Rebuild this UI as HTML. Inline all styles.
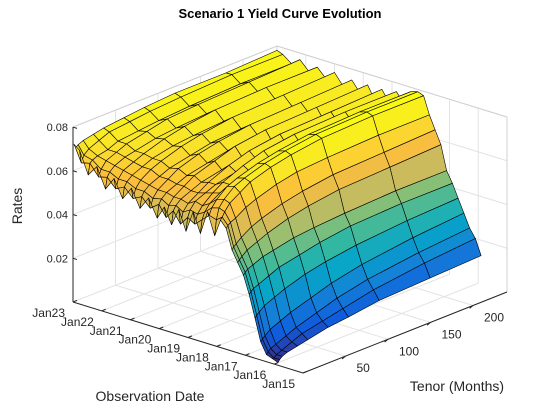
<!DOCTYPE html>
<html><head><meta charset="utf-8"><style>
html,body{margin:0;padding:0;background:#fff}
svg{display:block;font-family:"Liberation Sans",Arial,sans-serif}
</style></head><body>
<svg id="chart" width="560" height="420" viewBox="0 0 560 420" xmlns="http://www.w3.org/2000/svg">
<rect width="560" height="420" fill="#fff"/>
<text x="280" y="18" text-anchor="middle" font-size="13" font-weight="bold" fill="#000">Scenario 1 Yield Curve Evolution</text>
<g id="grid"></g>
<g id="surf"></g>
<g id="axes"></g>
<text x="22" y="206" transform="rotate(-90 22 206)" text-anchor="middle" font-size="14" fill="#262626">Rates</text>
<text x="150" y="401" text-anchor="middle" font-size="14" fill="#262626">Observation Date</text>
<text x="457" y="391" text-anchor="middle" font-size="14" fill="#262626">Tenor (Months)</text>
</svg>
<script>
const tenors = [1,3,6,12,24,36,60,84,120,180,240];
const dates = [0.9,1.1,1.3,1.5,1.7,1.9,2.1,2.3,2.5,2.7,2.9,3.1,3.35,3.6,3.85,4.1,4.35,4.6,4.85,5.1,5.4,5.7,6.0,6.3,6.6,6.9,7.2,7.5,7.8,8.0];
const rates = [
[0.001,0.002,0.003,0.004,0.005,0.006,0.008,0.009,0.011,0.012,0.013],
[0.002,0.002,0.003,0.004,0.006,0.008,0.010,0.012,0.015,0.018,0.020],
[0.003,0.004,0.005,0.006,0.008,0.010,0.013,0.016,0.019,0.022,0.024],
[0.008,0.009,0.010,0.012,0.014,0.016,0.019,0.022,0.025,0.028,0.030],
[0.018,0.019,0.020,0.022,0.024,0.026,0.029,0.031,0.033,0.035,0.036],
[0.028,0.029,0.030,0.031,0.033,0.035,0.037,0.039,0.041,0.042,0.042],
[0.036,0.037,0.038,0.039,0.041,0.042,0.044,0.045,0.046,0.047,0.047],
[0.041,0.042,0.043,0.045,0.047,0.049,0.052,0.054,0.056,0.057,0.058],
[0.046,0.047,0.048,0.050,0.053,0.055,0.058,0.060,0.062,0.063,0.064],
[0.055,0.056,0.057,0.058,0.061,0.063,0.066,0.068,0.069,0.070,0.070],
[0.058,0.059,0.061,0.064,0.067,0.070,0.073,0.075,0.077,0.078,0.078],
[0.050,0.057,0.062,0.065,0.069,0.071,0.074,0.076,0.078,0.079,0.079],
[0.060,0.058,0.061,0.064,0.068,0.070,0.073,0.075,0.077,0.078,0.078],
[0.049,0.055,0.058,0.061,0.064,0.066,0.068,0.070,0.071,0.072,0.072],
[0.058,0.052,0.056,0.059,0.063,0.066,0.070,0.073,0.075,0.076,0.076],
[0.048,0.054,0.057,0.060,0.062,0.064,0.066,0.068,0.069,0.070,0.070],
[0.057,0.050,0.055,0.058,0.061,0.064,0.068,0.071,0.073,0.074,0.075],
[0.049,0.055,0.057,0.059,0.061,0.063,0.065,0.067,0.068,0.069,0.069],
[0.056,0.051,0.056,0.059,0.062,0.065,0.068,0.071,0.073,0.074,0.075],
[0.050,0.056,0.058,0.060,0.062,0.064,0.066,0.068,0.069,0.070,0.070],
[0.058,0.053,0.057,0.060,0.063,0.066,0.069,0.071,0.073,0.074,0.075],
[0.052,0.057,0.059,0.061,0.063,0.065,0.067,0.069,0.070,0.071,0.071],
[0.060,0.055,0.059,0.062,0.065,0.067,0.070,0.072,0.074,0.075,0.076],
[0.054,0.059,0.061,0.063,0.065,0.067,0.069,0.070,0.071,0.072,0.072],
[0.062,0.057,0.061,0.064,0.066,0.068,0.071,0.073,0.075,0.076,0.076],
[0.056,0.061,0.063,0.065,0.067,0.068,0.070,0.071,0.072,0.073,0.073],
[0.065,0.060,0.063,0.066,0.068,0.070,0.072,0.074,0.075,0.076,0.077],
[0.060,0.065,0.066,0.067,0.068,0.070,0.071,0.072,0.073,0.074,0.074],
[0.070,0.064,0.067,0.069,0.071,0.073,0.074,0.075,0.076,0.077,0.077],
[0.072,0.070,0.071,0.072,0.073,0.074,0.075,0.076,0.077,0.077,0.078]
];
const tenorTicks = [50,100,150,200];
const dateTickLabels = ["Jan15","Jan16","Jan17","Jan18","Jan19","Jan20","Jan21","Jan22","Jan23"];
const zTicks = [0.02,0.04,0.06,0.08];
const zTickLabels = ["0.02","0.04","0.06","0.08"];

const T0=0,T1=240,D0=0,D1=8,Z1=0.08;
function P(t,d,z){
  const tn=(t-T0)/(T1-T0), dn=(d-D0)/(D1-D0);
  return [303+tn*204-dn*230, 373-tn*81-dn*71-z*2187];
}
const NS="http://www.w3.org/2000/svg";
function mk(tag,attrs,parent){const e=document.createElementNS(NS,tag);for(const k in attrs)e.setAttribute(k,attrs[k]);parent.appendChild(e);return e;}
const grid=document.getElementById('grid'), surf=document.getElementById('surf'), axes=document.getElementById('axes');
function line(p,q,col,w,parent,name){const l=mk('line',{x1:p[0],y1:p[1],x2:q[0],y2:q[1],stroke:col,'stroke-width':w},parent);


return l;}
const gc="#e3e3e3";
for(const t of tenorTicks){line(P(t,D0,0),P(t,D1,0),gc,1,grid,'floor-gridline');line(P(t,D1,0),P(t,D1,Z1),gc,1,grid,'wall-gridline');}
for(let i=0;i<=8;i++){line(P(T0,i,0),P(T1,i,0),gc,1,grid,'floor-gridline');line(P(T1,i,0),P(T1,i,Z1),gc,1,grid,'wall-gridline');}
for(const z of zTicks){line(P(T0,D1,z),P(T1,D1,z),gc,1,grid,'wall-gridline');line(P(T1,D1,z),P(T1,D0,z),gc,1,grid,'wall-gridline');}
line(P(T1,D1,0),P(T1,D1,Z1),"#d0d0d0",1,grid,'box-edge');
line(P(T0,D1,Z1),P(T1,D1,Z1),"#d0d0d0",1,grid,'box-edge');
line(P(T1,D1,Z1),P(T1,D0,Z1),"#d0d0d0",1,grid,'box-edge');
line(P(T1,D0,0),P(T1,D0,Z1),"#d0d0d0",1,grid,'box-edge');

const stops=[[53,42,135],[15,92,221],[20,129,214],[6,164,202],[46,183,164],[135,191,119],[209,187,89],[253,190,60],[249,230,40],[249,251,14]];
function parula(v){v=Math.max(0,Math.min(1,v));const s=v*(stops.length-1),i=Math.min(stops.length-2,Math.floor(s)),f=s-i;
const c=stops[i].map((a,k)=>Math.round(a+(stops[i+1][k]-a)*f));return `rgb(${c[0]},${c[1]},${c[2]})`;}
let cmin=Infinity,cmax=-Infinity;rates.forEach(r=>r.forEach(v=>{cmin=Math.min(cmin,v);cmax=Math.max(cmax,v);}));
const quads=[];
for(let i=0;i<dates.length-1;i++)for(let j=0;j<tenors.length-1;j++){
  const c=[[j,i],[j+1,i],[j+1,i+1],[j,i+1]];
  const pts=c.map(([a,b])=>P(tenors[a],dates[b],rates[b][a]));
  const zavg=c.reduce((s,[a,b])=>s+rates[b][a],0)/4;
  const depth=((tenors[j]+tenors[j+1])/2/240)+((dates[i]+dates[i+1])/2/8)-zavg*2;
  quads.push({pts,zavg,depth});
}
quads.sort((a,b)=>b.depth-a.depth);
for(const q of quads){
  const p=mk('polygon',{points:q.pts.map(p=>p[0].toFixed(1)+','+p[1].toFixed(1)).join(' '),fill:parula((q.zavg-cmin)/(cmax-cmin)),stroke:'#000','stroke-width':0.6,'stroke-linejoin':'round'},surf);
  
  
}
const ac="#262626";
line(P(T0,D0,0),P(T0,D1,0),ac,1,axes,'date-axis-line');
line(P(T0,D0,0),P(T1,D0,0),ac,1,axes,'tenor-axis-line');
line(P(T0,D1,0),P(T0,D1,Z1),ac,1,axes,'z-axis-line');
for(const z of zTicks){const p=P(T0,D1,z);line(p,[p[0]+4,p[1]+1.3],ac,1,axes,'z-tick');}
zTicks.forEach((z,k)=>{const p=P(T0,D1,z);const t=mk('text',{x:p[0]-5,y:p[1]+4,'text-anchor':'end','font-size':11,fill:ac},axes);t.textContent=zTickLabels[k];

});
tenorTicks.forEach(tv=>{const p=P(tv,D0,0);line(p,[p[0]-3.4,p[1]-3.4*0.35+4],ac,1,axes,'tenor-tick');
const t=mk('text',{x:p[0]+11,y:p[1]+16,'text-anchor':'start','font-size':12,fill:ac},axes);t.textContent=String(tv);

});
dateTickLabels.forEach((lab,k)=>{const p=P(T0,k,0);line(p,[p[0]+4,p[1]-1.6],ac,1,axes,'date-tick');
const t=mk('text',{x:p[0]-8,y:p[1]+15,'text-anchor':'end','font-size':12,fill:ac},axes);t.textContent=lab;

});
</script>
</body></html>
